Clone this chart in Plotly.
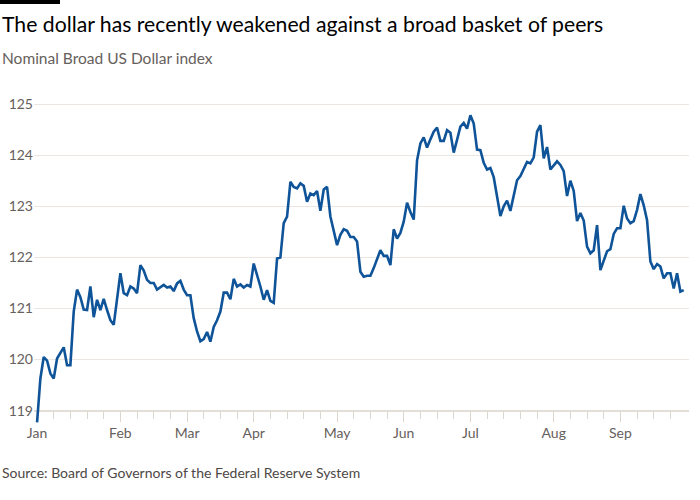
import pandas as pd
import plotly.graph_objects as go

# Nominal Broad US Dollar index, one value per business day
index_values = [
    118.77, 119.63, 120.05, 119.98, 119.73, 119.63, 120.02, 120.12, 120.24, 119.89,
    119.89, 120.94, 121.37, 121.22, 120.98, 120.97, 121.43, 120.83, 121.17, 120.97,
    121.19, 120.97, 120.77, 120.68, 121.17, 121.69, 121.30, 121.26, 121.43, 121.39,
    121.30, 121.85, 121.74, 121.56, 121.50, 121.50, 121.37, 121.41, 121.46, 121.41,
    121.43, 121.34, 121.49, 121.54, 121.37, 121.26, 121.26, 120.81, 120.55, 120.36,
    120.40, 120.54, 120.35, 120.64, 120.77, 120.94, 121.31, 121.31, 121.18, 121.58,
    121.43, 121.47, 121.41, 121.46, 121.43, 121.88, 121.67, 121.43, 121.17, 121.36,
    121.15, 121.11, 121.98, 122.00, 122.67, 122.80, 123.48, 123.38, 123.35, 123.45,
    123.40, 123.09, 123.25, 123.22, 123.30, 122.91, 123.33, 123.38, 122.80, 122.54,
    122.24, 122.44, 122.55, 122.52, 122.40, 122.40, 122.31, 121.72, 121.62, 121.64,
    121.64, 121.79, 121.95, 122.14, 122.03, 122.03, 121.85, 122.55, 122.37, 122.48,
    122.70, 123.07, 122.89, 122.74, 123.90, 124.23, 124.35, 124.15, 124.31, 124.46,
    124.54, 124.28, 124.28, 124.49, 124.44, 124.05, 124.30, 124.56, 124.63, 124.52,
    124.78, 124.62, 124.11, 124.10, 123.85, 123.72, 123.75, 123.57, 123.19, 122.81,
    123.00, 123.11, 122.91, 123.19, 123.51, 123.59, 123.74, 123.87, 123.84, 123.96,
    124.46, 124.59, 123.94, 124.16, 123.72, 123.81, 123.88, 123.81, 123.69, 123.20,
    123.50, 123.30, 122.71, 122.87, 122.72, 122.21, 122.08, 122.14, 122.63, 121.75,
    121.95, 122.12, 122.16, 122.46, 122.57, 122.57, 123.01, 122.76, 122.67, 122.71,
    122.93, 123.24, 123.02, 122.73, 121.92, 121.77, 121.87, 121.82, 121.59, 121.69,
    121.69, 121.39, 121.69, 121.33, 121.36,
]
dates = pd.bdate_range("2024-01-01", periods=len(index_values))

month_tick_dates = ["2024-01-01", "2024-02-05", "2024-03-04", "2024-04-01", "2024-05-06",
                    "2024-06-03", "2024-07-01", "2024-08-05", "2024-09-02"]
month_labels = ["Jan", "Feb", "Mar", "Apr", "May", "Jun", "Jul", "Aug", "Sep"]
week_tick_dates = list(pd.date_range("2024-01-01", "2024-09-23", freq="W-MON"))
y_ticks = [119, 120, 121, 122, 123, 124, 125]

title_text = "The dollar has recently weakened against a broad basket of peers"
subtitle_text = "Nominal Broad US Dollar index"
source_text = "Source: Board of Governors of the Federal Reserve System"

FONT = "Lato"
GRID = "#ebe6e1"
TICK = "#ddd6cf"
LABEL = "#66605c"

W, H = 700, 500
ML, MR, MT, MB = 34, 11, 99, 74
PW, PH = W - ML - MR, H - MT - MB
YMIN, YMAX = 118.7, 125.1

def px_x(px):
    return (px - ML) / PW

def px_y(py):
    return (H - MB - py) / PH

fig = go.Figure()
fig.add_trace(go.Scatter(
    x=dates, y=index_values, mode="lines",
    line=dict(color="#0f5499", width=2.6),
    hoverinfo="skip", showlegend=False,
))

fig.update_layout(
    width=W, height=H,
    margin=dict(l=ML, r=MR, t=MT, b=MB, autoexpand=False),
    paper_bgcolor="white", plot_bgcolor="white",
    font=dict(family=FONT, color=LABEL),
    showlegend=False,
    xaxis=dict(
        type="date",
        automargin=False,
        rangebreaks=[dict(bounds=["sat", "mon"])],
        range=["2023-12-29 02:00", "2024-09-30 14:00"],
        anchor="free",
        position=(119 - YMIN) / (YMAX - YMIN),
        tickmode="array",
        tickvals=month_tick_dates,
        ticktext=month_labels,
        ticks="outside", ticklen=10, tickwidth=1, tickcolor=TICK,
        minor=dict(tickmode="array", tickvals=week_tick_dates, ticks="outside",
                   ticklen=7, tickwidth=1, tickcolor=TICK, showgrid=False),
        tickfont=dict(size=14, color=LABEL, family=FONT),
        showgrid=False, zeroline=False,
        showline=True, linecolor="#e3ddd7", linewidth=2,
        layer="below traces",
    ),
    yaxis=dict(
        range=[YMIN, YMAX],
        automargin=False,
        tickmode="array", tickvals=y_ticks,
        showgrid=True, gridcolor=GRID, gridwidth=1,
        zeroline=False, showline=False, ticks="",
        tickfont=dict(size=14, color=LABEL, family=FONT),
    ),
)

fig.add_shape(type="rect", xref="paper", yref="paper",
              x0=px_x(0), x1=px_x(60), y0=px_y(4), y1=px_y(0),
              fillcolor="black", line=dict(width=0))

fig.add_annotation(text=title_text, xref="paper", yref="paper",
                   x=px_x(0), y=px_y(24), xanchor="left", yanchor="middle",
                   showarrow=False, font=dict(size=21.2, color="#000000", family=FONT))
fig.add_annotation(text=subtitle_text, xref="paper", yref="paper",
                   x=px_x(0), y=px_y(58), xanchor="left", yanchor="middle",
                   showarrow=False, font=dict(size=15.5, color=LABEL, family=FONT))
fig.add_annotation(text=source_text, xref="paper", yref="paper",
                   x=px_x(0), y=px_y(472), xanchor="left", yanchor="middle",
                   showarrow=False, font=dict(size=14, color="#4d4845", family=FONT))

# remove the browser's default 8px page margin so the figure sits at the window's corner
fig.write_html("out.html", config={"displayModeBar": False},
               post_script="document.body.style.margin='0';")
